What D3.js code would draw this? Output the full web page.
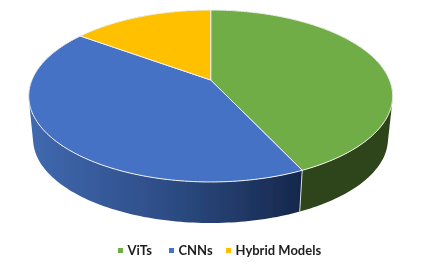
<!DOCTYPE html>
<html>
<head>
<meta charset="utf-8">
<script src="https://cdn.jsdelivr.net/npm/d3@7"></script>
<style>
  html, body { margin: 0; padding: 0; background: #fff; }
  svg { display: block; }
</style>
</head>
<body>
<div id="chart"></div>
<script>
// Share of each model family (percent)
const categories = ['ViTs', 'CNNs', 'Hybrid Models'];
const shares = [43, 42, 15];
const colors = ['#70ad47', '#4472c4', '#ffc000'];

const width = 423;
const height = 268;

const svg = d3.select('#chart')
    .append('svg')
    .attr('width', width)
    .attr('height', height)
    .attr('viewBox', [0, 0, width, height]);

const defs = svg.append('defs');

// The scan is a little soft, so blur the marks a touch
defs.append('filter')
    .attr('id', 'soft')
    .append('feGaussianBlur')
    .attr('stdDeviation', 0.35);

// Wall shading runs left to right
const wallFills = [
    [['#2d441a', 0], ['#2d441a', 1]],
    [['#4068ae', 0], ['#2d4d86', 0.5], ['#16284c', 1]],
    [['#7f6000', 0], ['#7f6000', 1]]
];

wallFills.forEach((stops, i) => {
    const gradient = defs.append('linearGradient')
        .attr('id', `wall-${i}`)
        .attr('gradientUnits', 'userSpaceOnUse')
        .attr('x1', 33).attr('x2', 300)
        .attr('y1', 0).attr('y2', 0);
    stops.forEach(([color, offset]) => {
        gradient.append('stop')
            .attr('offset', offset)
            .attr('stop-color', color);
    });
});

// Perspective view of a flat disc: k pulls the far edge in
const k = 0.186;
const project = (cx, cy, rx, ry) => angle => {
    const u = Math.sin(angle);
    const v = -Math.cos(angle);
    const w = 1 - k * v;
    return [cx + rx * u / w, cy + ry * v / w];
};
const topRim = project(210.7, 80, 178.8, 83);
const bottomRim = project(210.5, 123.5, 174.3, 81);

const pie = d3.pie().sort(null);
const slices = pie(shares);

const sweep = d => {
    const steps = Math.ceil((d.endAngle - d.startAngle) / 0.02);
    return d3.range(steps + 1)
        .map(i => d.startAngle + (d.endAngle - d.startAngle) * i / steps);
};

const line = d3.line().curve(d3.curveLinear);

// One quad per step. All wound the same way, or overlaps at the sides cancel out
const wallPath = d => d3.pairs(sweep(d))
    .map(([a, b]) => {
        const quad = [topRim(a), topRim(b), bottomRim(b), bottomRim(a)];
        if (d3.polygonArea(quad) < 0) quad.reverse();
        return line(quad) + 'Z';
    })
    .join('');

const chart = svg.append('g').attr('filter', 'url(#soft)');

// Side walls first, top face goes over them
chart.append('g')
    .selectAll('path')
    .data(slices)
    .join('path')
    .attr('d', wallPath)
    .attr('fill', (d, i) => `url(#wall-${i})`);

// Seam on the wall between ViTs and CNNs
chart.append('line')
    .datum(slices[0].endAngle)
    .attr('x1', d => topRim(d)[0])
    .attr('y1', d => topRim(d)[1])
    .attr('x2', d => bottomRim(d)[0])
    .attr('y2', d => bottomRim(d)[1])
    .attr('stroke', '#d9d9d9')
    .attr('stroke-width', 1);

// Top face
chart.append('g')
    .selectAll('path')
    .data(slices)
    .join('path')
    .attr('d', d => line([[210.7, 80], ...sweep(d).map(topRim)]) + 'Z')
    .attr('fill', (d, i) => colors[i])
    .attr('stroke', '#f2f2f2')
    .attr('stroke-width', 1)
    .attr('stroke-linejoin', 'round');

// Legend
const legendOffsets = [0, 51, 108];
const legend = svg.append('g')
    .attr('transform', 'translate(118, 0)')
    .attr('filter', 'url(#soft)');

categories.forEach((name, i) => {
    legend.append('rect')
        .attr('x', legendOffsets[i])
        .attr('y', 248)
        .attr('width', 5)
        .attr('height', 5)
        .attr('fill', colors[i]);
    legend.append('text')
        .attr('x', legendOffsets[i] + 9.5)
        .attr('y', 255)
        .attr('fill', '#1f1f1f')
        .attr('font-family', 'Lato, "Open Sans", sans-serif')
        .attr('font-size', 13)
        .attr('font-weight', 700)
        .text(name);
});
</script>
</body>
</html>
